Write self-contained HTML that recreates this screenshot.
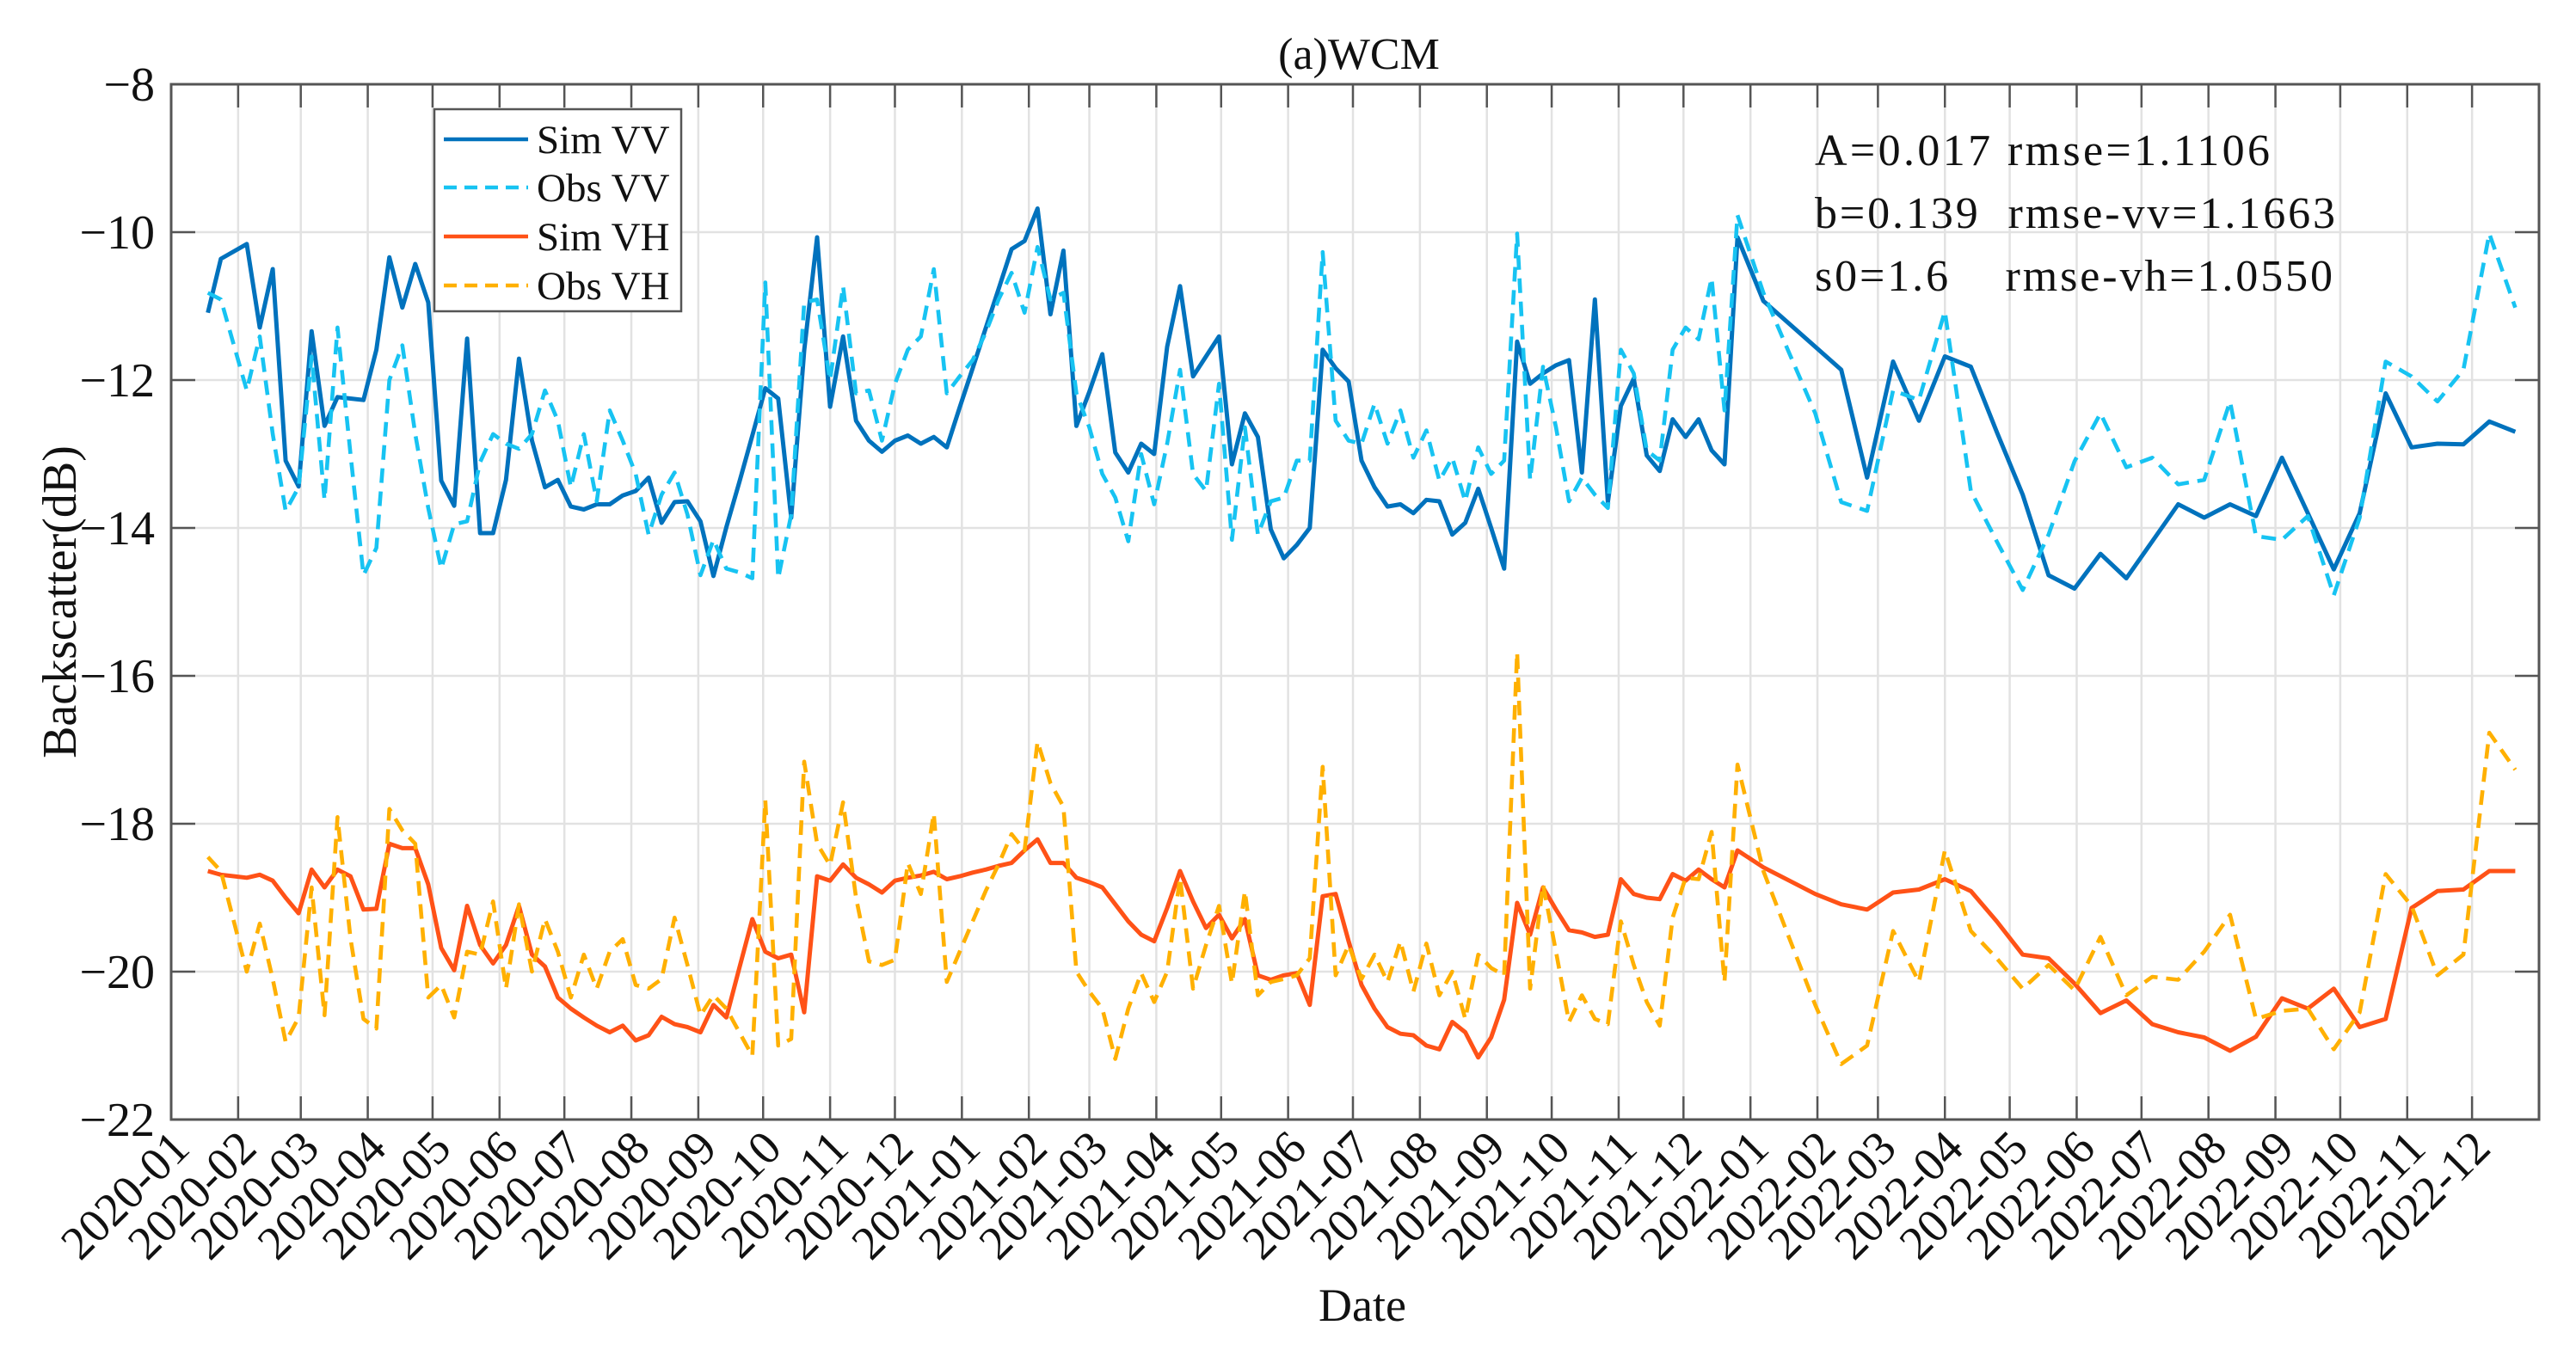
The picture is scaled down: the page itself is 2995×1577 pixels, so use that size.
<!DOCTYPE html>
<html>
<head>
<meta charset="utf-8">
<style>
  html,body{margin:0;padding:0;background:#fff;}
  svg{display:block;}
  text{font-family:"Liberation Serif","Times New Roman",serif;fill:#111;}
</style>
</head>
<body>
<svg id="chart" width="2995" height="1577" viewBox="0 0 2995 1577" xmlns="http://www.w3.org/2000/svg">
  <rect x="0" y="0" width="2995" height="1577" fill="#fff"/>
  <g id="grid"></g>
  <g id="series"></g>
  <g id="axes"></g>
  <text x="1580" y="80" font-size="52" text-anchor="middle">(a)WCM</text>
  <text x="1584" y="1536" font-size="54" text-anchor="middle">Date</text>
  <text x="0" y="0" font-size="56" text-anchor="middle" transform="translate(88,700) rotate(-90)">Backscatter(dB)</text>
  <g>
    <rect x="505" y="127" width="287" height="235" fill="#fff" stroke="#555" stroke-width="2.5"/>
    <g>
      <line x1="516" y1="162" x2="614" y2="162" stroke="#0072BD" stroke-width="4.5"/>
      <text x="624" y="178" font-size="47">Sim VV</text>
    </g>
    <g>
      <line x1="516" y1="218" x2="614" y2="218" stroke="#17C3F2" stroke-width="4.5" stroke-dasharray="15 9"/>
      <text x="624" y="234" font-size="47">Obs VV</text>
    </g>
    <g>
      <line x1="516" y1="275" x2="614" y2="275" stroke="#FF5217" stroke-width="4.5"/>
      <text x="624" y="291" font-size="47">Sim VH</text>
    </g>
    <g>
      <line x1="516" y1="332" x2="614" y2="332" stroke="#FFB000" stroke-width="4.5" stroke-dasharray="15 9"/>
      <text x="624" y="348" font-size="47">Obs VH</text>
    </g>
  </g>
  <g>
    <text x="2110" y="192" font-size="52" textLength="529" lengthAdjust="spacing" xml:space="preserve">A=0.017 rmse=1.1106</text>
    <text x="2110" y="265" font-size="52" textLength="605" lengthAdjust="spacing" xml:space="preserve">b=0.139  rmse-vv=1.1663</text>
    <text x="2110" y="338" font-size="52" textLength="602" lengthAdjust="spacing" xml:space="preserve">s0=1.6    rmse-vh=1.0550</text>
  </g>
</svg>
<script>
// ---- data (days since 2020-01-01) ----
const sampleDays = [17,23,35,41,47,53,59,65,71,77,83,89,95,101,107,113,119,125,131,137,143,149,155,161,167,173,179,185,191,197,203,209,215,221,227,233,239,245,251,257,263,269,275,281,287,293,
299,305,311,317,323,329,335,341,347,353,359,365,371,377,383,389,395,401,407,413,419,425,431,437,443,449,455,461,467,473,479,485,491,497,503,509,515,521,527,533,539,545,551,557,563,569,575,581,587,
593,599,605,611,617,623,629,635,641,647,653,659,665,671,677,683,689,695,701,707,713,719,725,737,749,761,773,785,797,809,821,833,845,857,869,
881,893,905,917,929,941,953,965,977,989,1001,1013,1025,1037,1049,1061,1073,1085];
const simVV = [-11.09,-10.36,-10.16,-11.29,-10.5,-13.09,-13.44,-11.34,-12.62,-12.23,-12.25,-12.27,-11.59,-10.34,-11.02,-10.43,-10.95,-13.36,-13.7,-11.44,-14.07,-14.07,-13.35,-11.71,-12.82,-13.45,-13.35,-13.71,-13.75,-13.68,-13.68,-13.56,-13.5,-13.32,-13.93,-13.65,-13.64,-13.91,-14.65,-13.99,-13.38,-12.75,-12.11,-12.25,-13.86,-11.6,
-10.07,-12.36,-11.41,-12.55,-12.82,-12.97,-12.82,-12.75,-12.86,-12.77,-12.91,-12.37,-11.84,-11.30,-10.77,-10.23,-10.12,-9.68,-11.11,-10.25,-12.62,-12.16,-11.65,-12.98,-13.25,-12.86,-13.0,-11.55,-10.73,-11.95,-11.68,-11.41,-13.14,-12.45,-12.77,-14.02,-14.41,-14.23,-14.0,-11.59,-11.84,-12.02,-13.09,-13.45,-13.71,-13.68,-13.8,-13.62,-13.64,
-14.09,-13.93,-13.47,-14.0,-14.55,-11.48,-12.05,-11.91,-11.8,-11.73,-13.25,-10.91,-13.65,-12.35,-11.98,-13.02,-13.23,-12.53,-12.77,-12.53,-12.95,-13.14,-10.07,-10.93,-11.24,-11.55,-11.86,-13.32,-11.75,-12.55,-11.68,-11.82,-12.7,-13.55,-14.64,
-14.82,-14.35,-14.68,-14.18,-13.68,-13.86,-13.68,-13.84,-13.05,-13.8,-14.56,-13.8,-12.18,-12.91,-12.86,-12.87,-12.56,-12.7];
const obsVV = [-10.82,-10.91,-12.14,-11.41,-12.73,-13.77,-13.45,-11.68,-13.62,-11.29,-13.0,-14.64,-14.27,-12,-11.53,-12.73,-13.73,-14.55,-13.95,-13.91,-13.11,-12.73,-12.86,-12.93,-12.73,-12.14,-12.55,-13.45,-12.73,-13.64,-12.41,-12.82,-13.27,-14.09,-13.55,-13.25,-13.82,-14.64,-14.16,-14.55,-14.6,-14.68,-10.68,-14.68,-13.82,-10.95,
-10.91,-12.0,-10.73,-12.18,-12.14,-12.82,-12.05,-11.59,-11.41,-10.5,-12.18,-11.95,-11.73,-11.36,-10.91,-10.55,-11.09,-10.2,-10.91,-10.82,-12.18,-12.64,-13.27,-13.59,-14.18,-13,-13.68,-12.86,-11.86,-13.27,-13.5,-12.05,-14.16,-12.64,-14.09,-13.64,-13.59,-13.09,-13.09,-10.27,-12.55,-12.82,-12.86,-12.32,-12.86,-12.41,-13.05,-12.68,-13.36,
-13.05,-13.64,-12.91,-13.27,-13.09,-10.02,-13.35,-11.82,-12.64,-13.64,-13.32,-13.55,-13.73,-11.59,-11.91,-12.95,-13.09,-11.59,-11.29,-11.45,-10.62,-12.41,-9.77,-10.82,-11.64,-12.45,-13.65,-13.77,-12.14,-12.27,-11.07,-13.5,-14.18,-14.84,-14.09,
-13.1,-12.45,-13.18,-13.05,-13.41,-13.35,-12.29,-14.11,-14.16,-13.84,-14.91,-13.86,-11.75,-11.95,-12.29,-11.86,-10.02,-11.02];
const simVH = [-18.64,-18.69,-18.73,-18.69,-18.77,-19.0,-19.21,-18.62,-18.86,-18.62,-18.71,-19.16,-19.15,-18.27,-18.33,-18.33,-18.82,-19.68,-19.98,-19.11,-19.64,-19.89,-19.64,-19.11,-19.77,-19.93,-20.35,-20.5,-20.62,-20.73,-20.82,-20.73,-20.93,-20.86,-20.61,-20.71,-20.75,-20.82,-20.45,-20.62,-19.95,-19.29,-19.73,-19.82,-19.77,-20.55,
-18.71,-18.77,-18.55,-18.73,-18.82,-18.93,-18.77,-18.73,-18.7,-18.65,-18.75,-18.71,-18.66,-18.62,-18.57,-18.53,-18.36,-18.21,-18.53,-18.53,-18.73,-18.79,-18.86,-19.09,-19.32,-19.5,-19.59,-19.14,-18.64,-19.05,-19.41,-19.23,-19.55,-19.29,-20.05,-20.11,-20.05,-20.02,-20.45,-18.98,-18.95,-19.59,-20.18,-20.5,-20.75,-20.84,-20.86,-21.0,-21.05,
-20.68,-20.82,-21.16,-20.89,-20.38,-19.07,-19.5,-18.86,-19.16,-19.44,-19.47,-19.53,-19.5,-18.75,-18.95,-19.0,-19.02,-18.68,-18.77,-18.62,-18.75,-18.86,-18.36,-18.59,-18.77,-18.95,-19.09,-19.16,-18.93,-18.89,-18.75,-18.91,-19.32,-19.77,-19.82,
-20.16,-20.56,-20.39,-20.71,-20.82,-20.89,-21.07,-20.88,-20.36,-20.5,-20.23,-20.75,-20.64,-19.14,-18.91,-18.89,-18.64,-18.64];
const obsVH = [-18.45,-18.64,-20,-19.35,-20.1,-20.95,-20.62,-18.86,-20.59,-17.91,-19.55,-20.64,-20.77,-17.8,-18.09,-18.27,-20.35,-20.18,-20.62,-19.73,-19.77,-19.05,-20.23,-19.09,-20,-19.29,-19.73,-20.35,-19.77,-20.23,-19.73,-19.56,-20.18,-20.23,-20.1,-19.27,-19.91,-20.59,-20.32,-20.5,-20.82,-21.14,-17.68,-21.0,-20.91,-17.16,
-18.27,-18.56,-17.71,-19.0,-19.86,-19.91,-19.84,-18.53,-18.95,-17.86,-20.14,-19.73,-19.32,-18.91,-18.55,-18.14,-18.36,-16.89,-17.45,-17.77,-20,-20.27,-20.5,-21.18,-20.5,-20.02,-20.41,-20,-18.73,-20.23,-19.64,-19.11,-20.16,-18.91,-20.32,-20.14,-20.1,-20.05,-19.82,-17.23,-20.05,-19.64,-20.1,-19.77,-20.14,-19.59,-20.27,-19.62,-20.32,
-20,-20.64,-19.77,-19.95,-20.05,-15.68,-20.23,-18.82,-19.73,-20.68,-20.32,-20.64,-20.71,-19.32,-19.91,-20.41,-20.73,-19.27,-18.73,-18.75,-18.11,-20.14,-17.2,-18.64,-19.55,-20.45,-21.25,-21.0,-19.45,-20.14,-18.36,-19.45,-19.82,-20.23,-19.91,
-20.25,-19.53,-20.32,-20.07,-20.11,-19.73,-19.23,-20.64,-20.53,-20.5,-21.05,-20.55,-18.68,-19.11,-20.05,-19.77,-16.77,-17.27];
const yTicks = [-8,-10,-12,-14,-16,-18,-20,-22];
const yTickLabels = ["\u22128","\u221210","\u221212","\u221214","\u221216","\u221218","\u221220","\u221222"];
const monthLabels = ["2020-01","2020-02","2020-03","2020-04","2020-05","2020-06","2020-07","2020-08","2020-09","2020-10","2020-11","2020-12",
"2021-01","2021-02","2021-03","2021-04","2021-05","2021-06","2021-07","2021-08","2021-09","2021-10","2021-11","2021-12",
"2022-01","2022-02","2022-03","2022-04","2022-05","2022-06","2022-07","2022-08","2022-09","2022-10","2022-11","2022-12"];

// ---- layout ----
const L = 199, R = 2952, T = 98, B = 1302;
const X_MIN = 0, X_MAX = 1096; // days: 2020-01-01 .. 2023-01-01
const Y_MIN = -22, Y_MAX = -8;
function xScale(d){ return L + (d - X_MIN) / (X_MAX - X_MIN) * (R - L); }
function yScale(v){ return T + (Y_MAX - v) / (Y_MAX - Y_MIN) * (B - T); }
function dayOf(label){
  const p = label.split("-");
  return (Date.UTC(+p[0], +p[1]-1, 1) - Date.UTC(2020,0,1)) / 86400000;
}
const NS = "http://www.w3.org/2000/svg";
function mk(tag, attrs, parent){
  const e = document.createElementNS(NS, tag);
  for (const k in attrs) e.setAttribute(k, attrs[k]);
  parent.appendChild(e);
  return e;
}
const grid = document.getElementById("grid");
const axes = document.getElementById("axes");
const series = document.getElementById("series");

// grid + ticks
monthLabels.forEach(function(lab){
  const x = xScale(dayOf(lab));
  const gl = mk("line", {x1:x, y1:T, x2:x, y2:B, stroke:"#e2e2e2", "stroke-width":2.5}, grid);
  
  
  const t1 = mk("line", {x1:x, y1:B, x2:x, y2:B-27, stroke:"#555", "stroke-width":2.5}, axes);
  
  
  const t2 = mk("line", {x1:x, y1:T, x2:x, y2:T+27, stroke:"#555", "stroke-width":2.5}, axes);
  
  
  const tx = mk("text", {x:0, y:0, "font-size":55, "text-anchor":"end", transform:"translate("+(x+24)+","+1338+") rotate(-45)"}, axes);
  tx.textContent = lab;
  
  
});
yTicks.forEach(function(v, i){
  const y = yScale(v);
  const gl = mk("line", {x1:L, y1:y, x2:R, y2:y, stroke:"#e2e2e2", "stroke-width":2.5}, grid);
  
  
  const t1 = mk("line", {x1:L, y1:y, x2:L+28, y2:y, stroke:"#555", "stroke-width":2.5}, axes);
  
  
  const t2 = mk("line", {x1:R, y1:y, x2:R-28, y2:y, stroke:"#555", "stroke-width":2.5}, axes);
  
  
  const tx = mk("text", {x:180, y:y+19, "font-size":56, "text-anchor":"end"}, axes);
  tx.textContent = yTickLabels[i];
  
  
});
const frame = mk("rect", {x:L, y:T, width:R-L, height:B-T, fill:"none", stroke:"#555", "stroke-width":3}, axes);



// series
function drawLine(vals, color, dashed, name){
  const pts = sampleDays.map(function(d, i){ return xScale(d).toFixed(1) + "," + yScale(vals[i]).toFixed(1); }).join(" ");
  const attrs = {points:pts, fill:"none", stroke:color, "stroke-width":dashed ? 4.6 : 5, "stroke-linejoin":"round"};
  if (dashed) attrs["stroke-dasharray"] = "17 10";
  const pl = mk("polyline", attrs, series);
  
  
}
drawLine(simVV, "#0072BD", false, "sim-vv-line");
drawLine(obsVV, "#17C3F2", true, "obs-vv-line");
drawLine(simVH, "#FF5217", false, "sim-vh-line");
drawLine(obsVH, "#FFB000", true, "obs-vh-line");
</script>
</body>
</html>
